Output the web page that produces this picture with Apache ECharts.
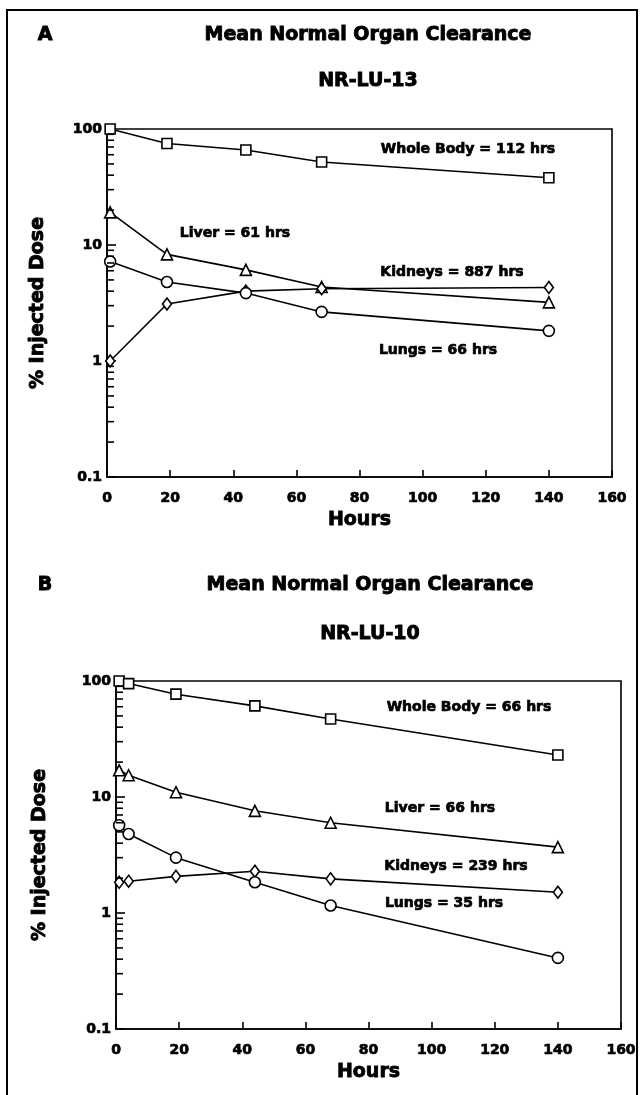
<!DOCTYPE html>
<html>
<head>
<meta charset="utf-8">
<script src="https://cdn.jsdelivr.net/npm/echarts@6/dist/echarts.min.js"></script>
<style>
html,body{margin:0;padding:0;background:#fff;}
#chart{width:641px;height:1095px;}
</style>
</head>
<body>
<div id="chart"></div>
<script>
// ---- Panel A (NR-LU-13) ----
const hoursA = [1, 19, 44, 68, 140];
const wholeBodyA = [100, 75, 66, 52, 38];
const liverA = [19.1, 8.3, 6.1, 4.35, 3.2];
const kidneysA = [1.0, 3.1, 4.0, 4.2, 4.3];
const lungsA = [7.2, 4.8, 3.85, 2.65, 1.82];

// ---- Panel B (NR-LU-10) ----
const hoursB = [1, 4, 19, 44, 68, 140];
const wholeBodyB = [100, 95, 77, 61, 47, 23];
const liverB = [17, 15.4, 11.0, 7.6, 6.0, 3.7];
const kidneysB = [1.84, 1.88, 2.07, 2.29, 1.97, 1.51];
const lungsB = [5.7, 4.8, 3.0, 1.84, 1.16, 0.41];

// ---- axes ----
const xTicks = [0, 20, 40, 60, 80, 100, 120, 140, 160];
const yTickLabels = [0.1, 1, 10, 100];
const yMinorTicks = [0.2,0.3,0.4,0.5,0.6,0.7,0.8,0.9,2,3,4,5,6,7,8,9,20,30,40,50,60,70,80,90];

const panelTitle = 'Mean Normal Organ Clearance';
const panelA = {letter: 'A', sub: 'NR-LU-13', notes: ['Whole Body = 112 hrs', 'Liver = 61 hrs', 'Kidneys = 887 hrs', 'Lungs = 66 hrs']};
const panelB = {letter: 'B', sub: 'NR-LU-10', notes: ['Whole Body = 66 hrs', 'Liver = 66 hrs', 'Kidneys = 239 hrs', 'Lungs = 35 hrs']};

const FONT = '"DejaVu Sans", "Liberation Sans", Arial, sans-serif';

const chart = echarts.init(document.getElementById('chart'), null, {renderer: 'canvas'});

function zip(xs, ys) { return xs.map((x, i) => [x, ys[i]]); }

const labelStyle = {fontFamily: FONT, fontWeight: 'bold', fontSize: 14, color: '#000', textBorderColor: '#000', textBorderWidth: 0.7};

function xAxisCfg(gi) {
  return {
    type: 'value', gridIndex: gi, min: xTicks[0], max: xTicks[xTicks.length - 1], interval: 20,
    name: 'Hours', nameLocation: 'middle', nameGap: 34,
    nameTextStyle: {fontFamily: FONT, fontWeight: 'bold', fontSize: 19, color: '#000', textBorderColor: '#000', textBorderWidth: 0.8},
    axisLine: {lineStyle: {color: '#000', width: 1.6}},
    axisTick: {inside: true, length: 7, lineStyle: {color: '#000', width: 1.6}},
    axisLabel: Object.assign({margin: 14, showMaxLabel: true, showMinLabel: true}, labelStyle),
    splitLine: {show: false}
  };
}
function yAxisCfg(gi) {
  return {
    type: 'log', logBase: 10, gridIndex: gi, min: yTickLabels[0], max: yTickLabels[yTickLabels.length - 1],
    axisLine: {lineStyle: {color: '#000', width: 1.6}},
    axisTick: {inside: true, length: 9, lineStyle: {color: '#000', width: 1.6}},
    axisLabel: Object.assign({margin: 5,
      formatter: v => { const n = Number(v); return n < 1 ? n.toFixed(1) : String(Math.round(n)); }}, labelStyle),
    splitLine: {show: false}
  };
}

function lineSeries(gi, data, symbol, size) {
  return {
    type: 'line', xAxisIndex: gi, yAxisIndex: gi, data: data,
    symbol: symbol, symbolSize: size, showSymbol: true,
    lineStyle: {color: '#000', width: 1.6},
    itemStyle: {color: '#fff', borderColor: '#000', borderWidth: 1.6},
    animation: false, silent: true, z: 3
  };
}
function minorTickSeries(gi) {
  return {
    type: 'custom', xAxisIndex: gi, yAxisIndex: gi, silent: true, animation: false, z: 4,
    data: yMinorTicks.map(v => [xTicks[0], v]),
    renderItem: function (params, api) {
      const p = api.coord([api.value(0), api.value(1)]);
      return {type: 'line', shape: {x1: p[0], y1: p[1], x2: p[0] + 7, y2: p[1]},
        style: {stroke: '#000', lineWidth: 1.6}};
    }
  };
}

function txt(x, y, text, size, extra) {
  return Object.assign({
    type: 'text', x: x, y: y, silent: true,
    style: {text: text, fill: '#000', stroke: '#000', lineWidth: size > 16 ? 0.9 : 0.7,
      font: 'bold ' + size + 'px ' + FONT, textAlign: 'center', textVerticalAlign: 'middle'}
  }, extra || {});
}

const graphics = [
  {type: 'rect', shape: {x: 7, y: 10, width: 630, height: 1100}, style: {fill: 'none', stroke: '#000', lineWidth: 2}, silent: true},
  // Panel A
  txt(45, 35, panelA.letter, 19),
  txt(368, 35, panelTitle, 19),
  txt(368, 81, panelA.sub, 19),
  txt(38, 303, '% Injected Dose', 19, {rotation: Math.PI / 2}),
  txt(468, 149, panelA.notes[0], 14),
  txt(235, 233, panelA.notes[1], 14),
  txt(452, 272, panelA.notes[2], 14),
  txt(438, 350, panelA.notes[3], 14),
  // Panel B
  txt(45, 585, panelB.letter, 19),
  txt(370, 585, panelTitle, 19),
  txt(370, 634, panelB.sub, 19),
  txt(40, 855, '% Injected Dose', 19, {rotation: Math.PI / 2}),
  txt(469, 707, panelB.notes[0], 14),
  txt(440, 808, panelB.notes[1], 14),
  txt(456, 866, panelB.notes[2], 14),
  txt(444, 903, panelB.notes[3], 14)
];

const option = {
  backgroundColor: '#fff',
  animation: false,
  grid: [
    {left: 107, top: 129, width: 505, height: 348, show: true, borderColor: '#000', borderWidth: 1.6, backgroundColor: 'transparent'},
    {left: 116, top: 681, width: 505, height: 348, show: true, borderColor: '#000', borderWidth: 1.6, backgroundColor: 'transparent'}
  ],
  xAxis: [xAxisCfg(0), xAxisCfg(1)],
  yAxis: [yAxisCfg(0), yAxisCfg(1)],
  series: [
    minorTickSeries(0),
    minorTickSeries(1),
    lineSeries(0, zip(hoursA, wholeBodyA), 'rect', 10),
    lineSeries(0, zip(hoursA, liverA), 'triangle', 11),
    lineSeries(0, zip(hoursA, kidneysA), 'diamond', [9, 12]),
    lineSeries(0, zip(hoursA, lungsA), 'circle', 11),
    lineSeries(1, zip(hoursB, wholeBodyB), 'rect', 10),
    lineSeries(1, zip(hoursB, liverB), 'triangle', 11),
    lineSeries(1, zip(hoursB, kidneysB), 'diamond', [9, 12]),
    lineSeries(1, zip(hoursB, lungsB), 'circle', 11)
  ],
  graphic: graphics
};
chart.setOption(option);
</script>
</body>
</html>
